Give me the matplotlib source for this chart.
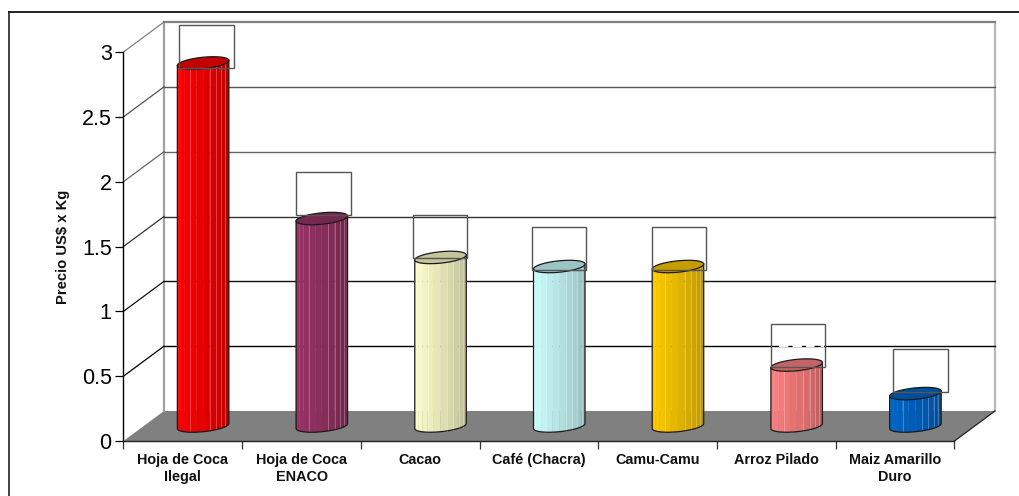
import numpy as np
import matplotlib
matplotlib.use('Agg')
import matplotlib.pyplot as plt
from matplotlib.colors import to_rgb
from matplotlib.lines import Line2D
from matplotlib.patches import Polygon, Rectangle

plt.rcParams['font.family'] = ['Liberation Sans', 'DejaVu Sans']

categorias = ['Hoja de Coca\nIlegal', 'Hoja de Coca\nENACO', 'Cacao', 'Café (Chacra)',
              'Camu-Camu', 'Arroz Pilado', 'Maiz Amarillo\nDuro']
precios = [2.80, 1.60, 1.30, 1.23, 1.23, 0.47, 0.25]
colores = ['#FF0000', '#993366', '#FFFFCC', '#CCFFFF', '#FFCC00', '#FF8080', '#0066CC']
ticks_y = [0, 0.5, 1, 1.5, 2, 2.5, 3]
ticks_y_txt = ['0', '0.5', '1', '1.5', '2', '2.5', '3']
color_grid = ['#000000', '#000000', '#111111', '#333333', '#666666', '#555555', '#808080']

W, H = 1020, 496
x0, x1 = 123.5, 954.5
y0, y3 = 441.0, 52.0
px_x = (x1 - x0) / 7
px_y = (y0 - y3) / 3

# profundidad del grafico 3D, en unidades de datos
prof_x = 40.5 / px_x
prof_y = 30.0 / px_y

fig = plt.figure(figsize=(W / 100, H / 100), dpi=100)
ax = fig.add_axes([x0 / W, 1 - y0 / H, (x1 - x0) / W, (y0 - y3) / H])
ax.set_xlim(0, 7)
ax.set_ylim(0, 3)
ax.patch.set_visible(False)

for lado in ['top', 'right']:
    ax.spines[lado].set_visible(False)
ax.spines['left'].set_linewidth(1.0)
ax.spines['bottom'].set_color('#222222')
ax.spines['bottom'].set_linewidth(1.0)

ax.set_yticks(ticks_y)
ax.set_yticklabels(ticks_y_txt, fontsize=15.5)
ax.tick_params(axis='y', length=5.5, width=0.9, pad=3)
ax.set_xticks(range(8))
ax.set_xticklabels([])
ax.tick_params(axis='x', length=5.5, width=0.9, color='#333333')

for i, cat in enumerate(categorias):
    ax.text(i + 0.5, -0.0925, cat, ha='center', va='top', fontsize=10.4, fontweight='bold',
            linespacing=1.27, color='#111111')
ax.text(63.5 / W, 1 - 246.5 / H, 'Precio US$ x Kg', transform=fig.transFigure, rotation=90,
        ha='center', va='center', fontsize=10.6, fontweight='bold', color='#111111')

# piso
ax.add_patch(Polygon([(0, 0), (7, 0), (7 + prof_x, prof_y), (prof_x, prof_y)], closed=True,
                     facecolor='#808080', edgecolor='none', clip_on=False, zorder=1))
ax.plot([7, 7 + prof_x], [0, prof_y], color='#222222', lw=0.9, clip_on=False, zorder=1.5)

# paredes y lineas de division
ax.plot([prof_x, prof_x], [prof_y, 3 + prof_y], color='#A0A0A0', lw=1.6, clip_on=False, zorder=1)
ax.plot([7 + prof_x, 7 + prof_x], [prof_y, 3 + prof_y], color='#B8B8B8', lw=1.6, clip_on=False, zorder=1)
for v, c in zip(ticks_y[1:], color_grid[1:]):
    lw = 1.6 if v == 3 else 1.0
    ax.plot([prof_x, 7 + prof_x], [v + prof_y, v + prof_y], color=c, lw=lw, clip_on=False, zorder=1)
    ax.plot([0, prof_x], [v, v + prof_y], color=c, lw=0.9, clip_on=False, zorder=1)

# cilindros
a = 25.75 / px_x
b = 5.7 / px_y
inclin = 2.5 / px_y
n_caras = 12
ang = np.linspace(np.pi, 0, n_caras + 1)


def borde(cx, base, t):
    return cx + a * np.cos(t), base + prof_y / 2 - b * np.sin(t) + inclin * np.cos(t)


def tapa(cx, base, t):
    return cx + a * np.cos(t), base + prof_y / 2 + b * np.sin(t) + inclin * np.cos(t)


for i, (v, col) in enumerate(zip(precios, colores)):
    cx = i + 0.5 + prof_x / 2
    rgb = np.array(to_rgb(col))
    for k in range(n_caras):
        t = ang[k:k + 2]
        xb, yb = borde(cx, 0, t)
        xt, yt = borde(cx, v, t)
        f = 1.0 - 0.30 * (k / (n_caras - 1)) ** 1.4
        ax.add_patch(Polygon([(xb[0], yb[0]), (xb[1], yb[1]), (xt[1], yt[1]), (xt[0], yt[0])],
                             closed=True, facecolor=rgb * f, edgecolor=rgb * f, lw=0.2,
                             clip_on=False, zorder=3))
        if k in (3, 6, 7, 8, 9):
            claro = rgb * f * 0.7 + 0.3
            ax.plot([xb[1], xt[1]], [yb[1], yt[1]], color=claro, lw=0.6, clip_on=False, zorder=3.1)
    # contorno
    t = np.linspace(np.pi, 0, 60)
    xb, yb = borde(cx, 0, t)
    xt, yt = borde(cx, v, t)
    ax.plot(np.r_[xt[0], xb, xt[-1]], np.r_[yt[0], yb, yt[-1]], color='#1A1A1A', lw=0.9,
            clip_on=False, zorder=3.2)
    t = np.linspace(0, 2 * np.pi, 100)
    xe, ye = tapa(cx, v, t)
    ax.add_patch(Polygon(np.c_[xe, ye], closed=True, facecolor=rgb * 0.77, edgecolor='#1A1A1A',
                         lw=0.9, clip_on=False, zorder=3.3))

# cuadros de las etiquetas (el texto no se ve, queda en blanco)
cuadro_x = [179.5, 296.5, 412.7, 531.7, 652.0, 770.7, 893.0]
cuadro_y = [25.5, 172.0, 215.3, 227.3, 227.3, 324.3, 349.3]
cuadro_w = 54.5
cuadro_h = 42.7
for xc, yc in zip(cuadro_x, cuadro_y):
    ax.add_patch(Rectangle(((xc - x0) / px_x, (y0 - yc - cuadro_h) / px_y), cuadro_w / px_x,
                           cuadro_h / px_y, facecolor='none', edgecolor='#555555', lw=1.0,
                           clip_on=False, zorder=4))

# la etiqueta blanca de Arroz Pilado corta la linea de 0.5
xa = (cuadro_x[5] - x0) / px_x
ax.plot([xa + 8.5 / px_x, xa + 53 / px_x], [0.5 + prof_y, 0.5 + prof_y], color='white', lw=1.5,
        linestyle=(0, (4.5, 2, 4.5, 2, 4, 3, 5, 4)), clip_on=False, zorder=1.2)

# marco exterior
fig.add_artist(Line2D([9 / W, 9 / W], [0, 1 - 11.5 / H], color='#333333', lw=1.3))
fig.add_artist(Line2D([9 / W, 1], [1 - 11.5 / H, 1 - 11.5 / H], color='#111111', lw=1.3))

fig.savefig('out.png', dpi=100)
